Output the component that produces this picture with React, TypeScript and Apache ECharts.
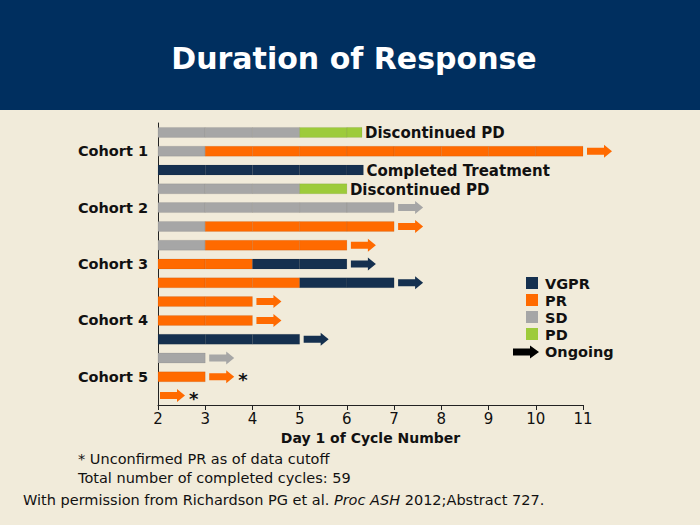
import React, { useEffect, useRef } from "react";
import * as echarts from "echarts";

const rowLabels = ["", "Cohort 1", "", "", "Cohort 2", "", "", "Cohort 3", "", "", "Cohort 4", "", "", "Cohort 5", ""];
const xTicks = [2, 3, 4, 5, 6, 7, 8, 9, 10, 11];

// [row, start, end]
const vgprSegments = [[2, 2, 6.35], [7, 4, 6], [8, 5, 7], [11, 2, 5]];
const prSegments = [[1, 3, 11], [5, 3, 7], [6, 3, 6], [7, 2, 4], [8, 2, 5], [9, 2, 4], [10, 2, 4], [13, 2, 3]];
const sdSegments = [[0, 2, 5], [1, 2, 3], [3, 2, 5], [4, 2, 7], [5, 2, 3], [6, 2, 3], [12, 2, 3]];
const pdSegments = [[0, 5, 6.32], [3, 5, 6]];

// [row, from, status]
const ongoing = [
  [1, 11, "PR"], [4, 7, "SD"], [5, 7, "PR"], [6, 6, "PR"], [7, 6, "VGPR"], [8, 7, "VGPR"],
  [9, 4, "PR"], [10, 4, "PR"], [11, 5, "VGPR"], [12, 3, "SD"], [13, 3, "PR"], [14, 2, "PR"],
];
// [row, x, text]
const endNotes = [[0, 6.32, "Discontinued PD"], [2, 6.35, "Completed Treatment"], [3, 6, "Discontinued PD"]];
const unconfirmedRows = [13, 14];

const legendItems = ["VGPR", "PR", "SD", "PD"];
const colors: Record<string, string> = {
  VGPR: "#15304f",
  PR: "#ff6a00",
  SD: "#a6a6a6",
  PD: "#9dcb3a",
};
const BG = "#f1ebda";
const BANNER = "#002f5f";
const FONT = "DejaVu Sans";

function segmentSeries(name: string, data: number[][]) {
  return {
    type: "custom",
    name,
    data,
    encode: { x: [1, 2], y: 0 },
    renderItem: (params: any, api: any) => {
      const row = api.value(0);
      const s = api.value(1);
      const e = api.value(2);
      const h = 10;
      const children: any[] = [];
      let a = s;
      while (a < e - 1e-6) {
        const b = Math.min(Math.floor(a + 1e-6) + 1, e);
        const p0 = api.coord([a, row]);
        const p1 = api.coord([b, row]);
        children.push({
          type: "rect",
          shape: { x: p0[0], y: p0[1] - h / 2, width: p1[0] - p0[0], height: h },
          style: { fill: colors[name], stroke: "rgba(0,0,0,0.07)", lineWidth: 1 },
        });
        a = b;
      }
      return { type: "group", children };
    },
  };
}

function arrowPoints(x0: number, y: number, len: number, shaft: number, head: number, headLen: number) {
  return [
    [x0, y - shaft / 2],
    [x0 + len - headLen, y - shaft / 2],
    [x0 + len - headLen, y - head / 2],
    [x0 + len, y],
    [x0 + len - headLen, y + head / 2],
    [x0 + len - headLen, y + shaft / 2],
    [x0, y + shaft / 2],
  ];
}

export default function App() {
  const ref = useRef<HTMLDivElement>(null);
  useEffect(() => {
    const chart = echarts.init(ref.current!, null, { renderer: "svg" });
    const option: any = {
      animation: false,
      backgroundColor: BG,
      grid: { left: 158, right: 117, top: 123, bottom: 120 },
      xAxis: {
        type: "value",
        min: 2,
        max: 11,
        interval: 1,
        axisLine: { show: true, lineStyle: { color: "#222", width: 1 } },
        axisTick: { show: true, length: 5, lineStyle: { color: "#222" } },
        splitLine: { show: false },
        axisLabel: {
          color: "#111",
          fontFamily: FONT,
          fontSize: 15,
          margin: 6,
          formatter: (v: number) => (xTicks.includes(v) ? String(v) : ""),
        },
        name: "Day 1 of Cycle Number",
        nameLocation: "middle",
        nameGap: 25,
        nameTextStyle: { color: "#111", fontFamily: FONT, fontSize: 14, fontWeight: "bold" },
      },
      yAxis: {
        type: "category",
        inverse: true,
        data: rowLabels.map((_, i) => "row" + i),
        axisLine: { show: true, lineStyle: { color: "#222", width: 1 } },
        axisTick: { show: false },
        axisLabel: {
          color: "#111",
          fontFamily: FONT,
          fontSize: 14.5,
          fontWeight: "bold",
          margin: 10,
          interval: 0,
          formatter: (_v: string, i: number) => rowLabels[i],
        },
      },
      series: [
        segmentSeries("SD", sdSegments),
        segmentSeries("PR", prSegments),
        segmentSeries("VGPR", vgprSegments),
        segmentSeries("PD", pdSegments),
        {
          type: "custom",
          name: "Ongoing",
          data: ongoing.map((o) => [o[0], o[1], o[2]]),
          encode: { x: 1, y: 0 },
          renderItem: (params: any, api: any) => {
            const idx = params.dataIndex;
            const row = ongoing[idx][0] as number;
            const from = ongoing[idx][1] as number;
            const status = ongoing[idx][2] as string;
            const p = api.coord([from, row]);
            const gap = from <= 2 ? 2 : 4;
            const children: any[] = [
              {
                type: "polygon",
                shape: { points: arrowPoints(p[0] + gap, p[1], 25, 7, 13, 8) },
                style: { fill: colors[status] },
              },
            ];
            if (unconfirmedRows.includes(row)) {
              children.push({
                type: "text",
                style: {
                  x: p[0] + gap + 29,
                  y: p[1] + 3,
                  text: "*",
                  fill: "#111",
                  font: `bold 18px ${FONT}`,
                  verticalAlign: "middle",
                },
              });
            }
            return { type: "group", children };
          },
        },
        {
          type: "custom",
          name: "notes",
          data: endNotes.map((n) => [n[0], n[1]]),
          encode: { x: 1, y: 0 },
          renderItem: (params: any, api: any) => {
            const n = endNotes[params.dataIndex];
            const p = api.coord([n[1], n[0]]);
            return {
              type: "text",
              style: {
                x: p[0] + 3,
                y: p[1] + 1,
                text: n[2] as string,
                fill: "#111",
                font: `bold 15px ${FONT}`,
                verticalAlign: "middle",
              },
            };
          },
        },
      ],
      graphic: [
        { type: "rect", shape: { x: 0, y: 0, width: 700, height: 110 }, style: { fill: BANNER } },
        {
          type: "text",
          x: 354,
          y: 58,
          style: {
            text: "Duration of Response",
            fill: "#ffffff",
            font: `bold 30px ${FONT}`,
            textAlign: "center",
            textVerticalAlign: "middle",
          },
        },
        ...legendItems.flatMap((name, i) => [
          {
            type: "rect",
            shape: { x: 526, y: 277 + i * 17, width: 12, height: 12 },
            style: { fill: colors[name] },
          },
          {
            type: "text",
            x: 545,
            y: 284 + i * 17,
            style: { text: name, fill: "#111", font: `bold 14.5px ${FONT}`, textVerticalAlign: "middle" },
          },
        ]),
        {
          type: "polygon",
          shape: { points: arrowPoints(513, 352, 26, 7, 13, 9) },
          style: { fill: "#000" },
        },
        {
          type: "text",
          x: 545,
          y: 352,
          style: { text: "Ongoing", fill: "#111", font: `bold 14.5px ${FONT}`, textVerticalAlign: "middle" },
        },
        {
          type: "text",
          x: 78,
          y: 459,
          style: {
            text: "* Unconfirmed PR as of data cutoff",
            fill: "#111",
            font: `14.5px ${FONT}`,
            textVerticalAlign: "middle",
          },
        },
        {
          type: "text",
          x: 78,
          y: 478,
          style: {
            text: "Total number of completed cycles: 59",
            fill: "#111",
            font: `14.5px ${FONT}`,
            textVerticalAlign: "middle",
          },
        },
        {
          type: "text",
          x: 23,
          y: 500,
          style: {
            text: "With permission from Richardson PG et al. {i|Proc ASH} 2012;Abstract 727.",
            fill: "#111",
            font: `14.5px ${FONT}`,
            textVerticalAlign: "middle",
            rich: {
              i: { fontStyle: "italic", fontFamily: FONT, fontSize: 14.5, fill: "#111" },
            },
          },
        },
      ],
    };
    chart.setOption(option);
    return () => chart.dispose();
  }, []);
  return (
    <div
      ref={ref}
      style={{ position: "absolute", left: 0, top: 0, width: 700, height: 525 }}
    />
  );
}
